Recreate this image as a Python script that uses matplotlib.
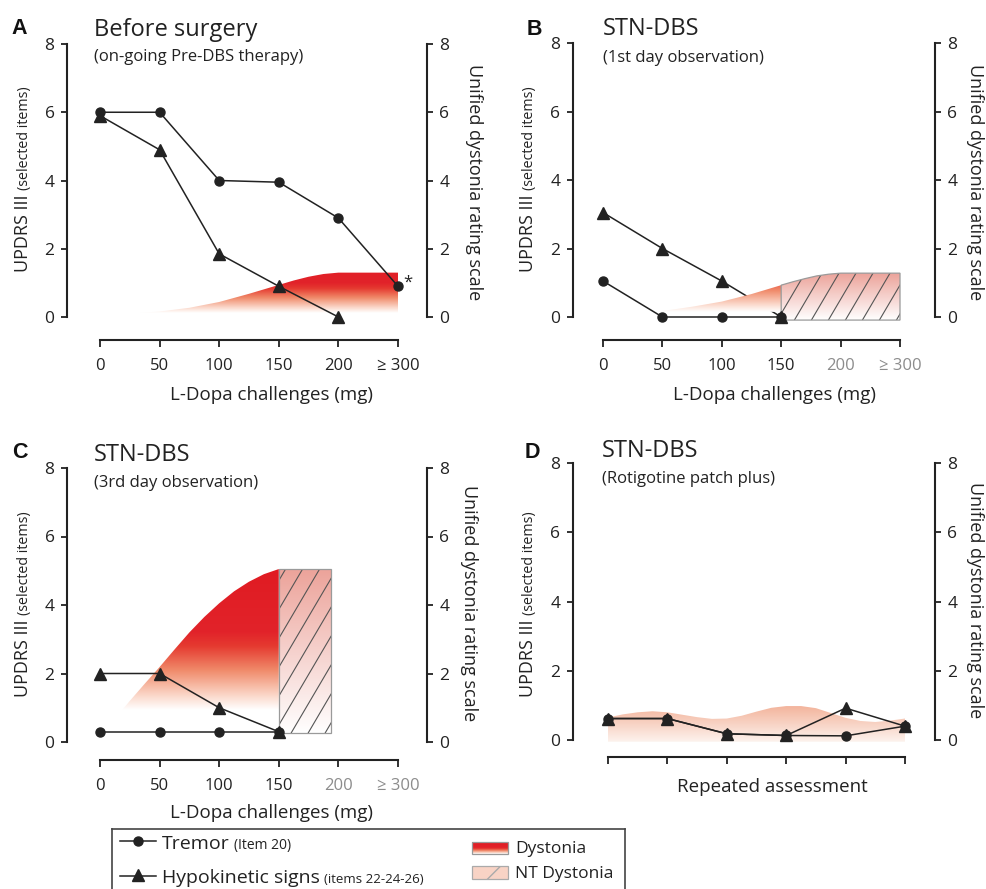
import numpy as np
import matplotlib
matplotlib.use("Agg")
import matplotlib.pyplot as plt
from matplotlib.colors import LinearSegmentedColormap
from matplotlib.patches import Polygon, Rectangle

plt.rcParams["font.family"] = ["Open Sans", "DejaVu Sans"]

W, H = 987, 889
INK = "#222222"
GREY = "#8c8c8c"

dose_labels = ["0", "50", "100", "150", "200", "\u2265 300"]
y_ticks = [0, 2, 4, 6, 8]

# A - before surgery
a_tremor = [6.0, 6.0, 4.0, 3.95, 2.9, 0.9]
a_hypo = [5.9, 4.9, 1.85, 0.9, 0.0]
a_dyst_x = [0.67, 1.0, 1.5, 2.0, 2.5, 3.0, 3.25, 3.5, 3.75, 4.0, 5.0]
a_dyst_top = [0.12, 0.16, 0.27, 0.44, 0.68, 0.94, 1.07, 1.18, 1.26, 1.3, 1.3]
a_dyst_bot = 0.12

# B - STN-DBS, 1st day
b_tremor = [1.05, 0.0, 0.0, 0.0]
b_hypo = [3.05, 2.0, 1.05, 0.0]
b_dyst_x = [0.9, 1.5, 2.0, 2.5, 3.0]
b_dyst_top = [0.15, 0.3, 0.45, 0.67, 0.93]
b_dyst_bot = 0.15
b_nt_x = [3.0, 3.2, 3.4, 3.6, 3.8, 4.0, 5.0]
b_nt_top = [0.93, 1.03, 1.12, 1.2, 1.25, 1.28, 1.28]
b_nt_bot = -0.09

# C - STN-DBS, 3rd day
c_tremor = [0.3, 0.3, 0.3, 0.3]
c_hypo = [2.0, 2.0, 1.0, 0.3]
c_dyst_x = [0.37, 0.5, 0.75, 1.0, 1.25, 1.5, 1.75, 2.0, 2.25, 2.5, 2.75, 3.0]
c_dyst_top = [0.93, 1.2, 1.7, 2.19, 2.7, 3.2, 3.65, 4.05, 4.4, 4.68, 4.9, 5.05]
c_dyst_bot = 0.93
c_nt_x = [3.0, 3.87]
c_nt_top = [5.05, 5.05]
c_nt_bot = 0.27

# D - rotigotine patch, repeated assessment
d_tremor = [0.62, 0.62, 0.18, 0.13, 0.12, 0.4]
d_hypo = [0.62, 0.62, 0.18, 0.13, 0.92, 0.4]
d_nt_x = [0, 0.25, 0.5, 0.75, 1.0, 1.25, 1.5, 1.75, 2.0, 2.25, 2.5, 2.75, 3.0,
          3.25, 3.5, 3.75, 4.0, 4.25, 4.5, 4.75, 5.0]
d_nt_top = [0.65, 0.74, 0.8, 0.83, 0.8, 0.73, 0.66, 0.61, 0.62, 0.7, 0.82, 0.93, 0.98,
            0.98, 0.92, 0.78, 0.64, 0.55, 0.52, 0.56, 0.62]
d_nt_bot = -0.05

dyst_cmap = LinearSegmentedColormap.from_list(
    "dyst", [(0, "#ffffff"), (0.1, "#fbd8ca"), (0.28, "#f08a6a"), (0.45, "#e53a30"),
             (0.55, "#e2232a"), (1, "#e01b22")])
nt_cmap = LinearSegmentedColormap.from_list("nt", [(0, "#ffffff"), (1, "#eca39a")])
d_cmap = LinearSegmentedColormap.from_list("ntd", [(0, "#fdf3ee"), (1, "#f3b49c")])

fig = plt.figure(figsize=(W / 100, H / 100), dpi=100)


def fx(x):
    return x / W


def fy(y):
    return 1 - y / H


def panel(xl, xr, yt, y0, yax, x0, x5):
    ax = fig.add_axes([fx(xl), fy(yax), (xr - xl) / W, (yax - yt) / H])
    s = (x5 - x0) / 5.0
    ax.set_xlim(-(x0 - xl) / s, 5 + (xr - x5) / s)
    ax.set_ylim(-(yax - y0) * 8.0 / (y0 - yt), 8)
    ax.set_autoscale_on(False)
    ax.patch.set_visible(False)
    ax.spines["top"].set_visible(False)
    for side in ["left", "right", "bottom"]:
        ax.spines[side].set_linewidth(1.5)
        ax.spines[side].set_color(INK)
    ax.spines["left"].set_bounds(0, 8)
    ax.spines["right"].set_bounds(0, 8)
    ax.spines["bottom"].set_bounds(0, 5)
    ax.set_yticks(y_ticks)
    ax.yaxis.set_ticks_position("both")
    ax.tick_params(axis="y", labelright=True, length=4.5, width=1.3,
                   pad=4.5, labelsize=12.5, colors=INK)
    ax.set_xticks(range(6))
    ax.tick_params(axis="x", length=5, width=1.3, pad=8, labelsize=12, colors=INK)
    return ax


def gradient_fill(ax, xs, top, bot, cmap, c0=0.0, c1=1.0, z=2):
    xs = np.asarray(xs, float)
    top = np.asarray(top, float)
    bot = np.full_like(xs, bot)
    verts = np.column_stack([np.concatenate([xs, xs[::-1]]),
                             np.concatenate([top, bot[::-1]])])
    poly = Polygon(verts, closed=True, fc="none", ec="none")
    ax.add_patch(poly)
    grad = np.linspace(c0, c1, 256).reshape(-1, 1)
    im = ax.imshow(grad, cmap=cmap, vmin=0, vmax=1, origin="lower", aspect="auto",
                   extent=[xs.min(), xs.max(), bot.min(), top.max()],
                   interpolation="bilinear", zorder=z)
    im.set_clip_path(poly)
    return poly


def nt_region(ax, xs, top, bot):
    poly = gradient_fill(ax, xs, top, bot, nt_cmap)
    (px0, py0), (px1, py1) = ax.transData.transform([(0, 0), (1, 1)])
    sx, sy = px1 - px0, py1 - py0
    slope = 1.7 * sx / sy
    step = 17.0 / sx
    lo, hi = bot, max(top)
    run = (hi - lo) / slope
    for xs0 in np.arange(xs[0] - run + step * 0.4, xs[-1], step):
        ln, = ax.plot([xs0, xs0 + run], [lo, hi], color="#555555", lw=0.8, zorder=2.5)
        ln.set_clip_path(poly)
    edge = Polygon(poly.get_xy(), closed=True, fc="none", ec="#9a9a9a", lw=0.9, zorder=2.6)
    ax.add_patch(edge)


def series(ax, tremor, hypo, lz=4):
    ax.plot(range(len(tremor)), tremor, "-", color=INK, lw=1.1, zorder=lz)
    ax.plot(range(len(hypo)), hypo, "-", color=INK, lw=1.1, zorder=lz)
    ax.plot(range(len(tremor)), tremor, ls="none", marker="o", ms=6.5,
            color=INK, zorder=5, clip_on=False)
    ax.plot(range(len(hypo)), hypo, ls="none", marker="^", ms=8.5,
            color=INK, zorder=5, clip_on=False)


def left_label(ax, xb, yb):
    t1 = fig.text(fx(xb), fy(yb), "UPDRS III", rotation=90, rotation_mode="anchor",
                  ha="left", va="baseline", fontsize=13, color=INK)
    ax.annotate("(selected items)", xy=(fx(xb), 1.0), xycoords=("figure fraction", t1),
                xytext=(0, 3), textcoords="offset points", rotation=90,
                rotation_mode="anchor", ha="left", va="baseline", fontsize=10.3,
                color=INK, annotation_clip=False)


def right_label(xc, yc):
    fig.text(fx(xc), fy(yc), "Unified dystonia rating scale", rotation=270,
             ha="center", va="center", fontsize=13, color=INK)


def headings(letter, lx, ly, title, sub, tx, ty, sy):
    fig.text(fx(lx), fy(ly), letter, fontsize=15.5, fontweight="bold",
             family=["Liberation Sans", "DejaVu Sans"], color="#111111", va="baseline")
    fig.text(fx(tx), fy(ty), title, fontsize=17, color=INK, va="baseline")
    fig.text(fx(tx), fy(sy), sub, fontsize=12, color=INK, va="baseline")


def xlabel(xc, yb, text):
    fig.text(fx(xc), fy(yb), text, fontsize=13.5, color=INK, ha="center", va="baseline")


# ---- A
axA = panel(67, 427, 44, 317, 340, 100, 398)
gradient_fill(axA, a_dyst_x, a_dyst_top, a_dyst_bot, dyst_cmap, 0.0, 0.75)
series(axA, a_tremor, a_hypo)
axA.text(5.09, 0.88, "*", fontsize=12, color=INK, va="baseline")
axA.set_xticklabels(dose_labels)
left_label(axA, 28, 272)
right_label(474, 182)
headings("A", 11, 34, "Before surgery", "(on-going Pre-DBS therapy)", 94, 36, 61)
xlabel(272, 400, "L-Dopa challenges (mg)")

# ---- B
axB = panel(573, 935, 43, 317, 340, 603, 900)
gradient_fill(axB, b_dyst_x, b_dyst_top, b_dyst_bot, dyst_cmap, 0.0, 0.35)
nt_region(axB, b_nt_x, b_nt_top, b_nt_bot)
series(axB, b_tremor, b_hypo, lz=1)
axB.set_xticklabels(dose_labels)
for lab in axB.get_xticklabels()[4:]:
    lab.set_color(GREY)
left_label(axB, 533, 272)
right_label(975, 182)
headings("B", 527, 35, "STN-DBS", "(1st day observation)", 603, 35, 62)
xlabel(775, 400, "L-Dopa challenges (mg)")

# ---- C
axC = panel(67, 427, 468, 742, 760, 100, 398)
gradient_fill(axC, c_dyst_x, c_dyst_top, c_dyst_bot, dyst_cmap)
nt_region(axC, c_nt_x, c_nt_top, c_nt_bot)
series(axC, c_tremor, c_hypo)
axC.set_xticklabels(dose_labels)
for lab in axC.get_xticklabels()[4:]:
    lab.set_color(GREY)
left_label(axC, 28, 697)
right_label(469, 603)
headings("C", 12, 458, "STN-DBS", "(3rd day observation)", 94, 461, 487)
xlabel(272, 818, "L-Dopa challenges (mg)")

# ---- D
axD = panel(573, 935, 463, 740, 757, 608, 905)
gradient_fill(axD, d_nt_x, d_nt_top, d_nt_bot, d_cmap)
series(axD, d_tremor, d_hypo)
axD.set_xticklabels([])
left_label(axD, 533, 697)
right_label(975, 600)
headings("D", 525, 458, "STN-DBS", "(Rotigotine patch plus)", 602, 457, 483)
xlabel(772, 792, "Repeated assessment")

# ---- legend box
lg = fig.add_axes([fx(112), fy(905), (625 - 112) / W, (905 - 829) / H])
lg.set_xlim(112, 625)
lg.set_ylim(905, 829)
lg.set_xticks([])
lg.set_yticks([])
for side in lg.spines.values():
    side.set_color("#444444")
    side.set_linewidth(1.2)

lg.plot([120, 156], [841, 841], color=INK, lw=1.1)
lg.plot([138], [841], marker="o", ms=6.5, color=INK)
lg.plot([120, 156], [876, 876], color=INK, lw=1.1)
lg.plot([138], [875], marker="^", ms=8.5, color=INK)

t = lg.text(162, 849, "Tremor", fontsize=14, color=INK, va="baseline")
lg.annotate("(Item 20)", xy=(1.0, 849), xycoords=(t, "data"), xytext=(3, 0),
            textcoords="offset points", fontsize=10, color=INK, va="baseline")
t = lg.text(162, 883, "Hypokinetic signs", fontsize=14, color=INK, va="baseline")
lg.annotate("(items 22-24-26)", xy=(1.0, 883), xycoords=(t, "data"), xytext=(3, 0),
            textcoords="offset points", fontsize=9.5, color=INK, va="baseline")

lg.imshow(np.linspace(1, 0, 64).reshape(-1, 1), cmap=dyst_cmap, vmin=0, vmax=1,
          origin="upper", aspect="auto", extent=[472, 508, 854, 842], zorder=2)
lg.add_patch(Rectangle((472, 842), 36, 12, fc="none", ec="#999999", lw=0.9, zorder=3))
lg.add_patch(Rectangle((472, 866), 36, 13, fc="#f8d3c5", ec="#aaaaaa", lw=0.9,
                       hatch="/", zorder=3))
lg.set_xlim(112, 625)
lg.set_ylim(905, 829)
lg.text(515, 853, "Dystonia", fontsize=12.5, color=INK, va="baseline")
lg.text(515, 878, "NT Dystonia", fontsize=12.5, color=INK, va="baseline")

fig.savefig("out.png", dpi=100, facecolor="white")
